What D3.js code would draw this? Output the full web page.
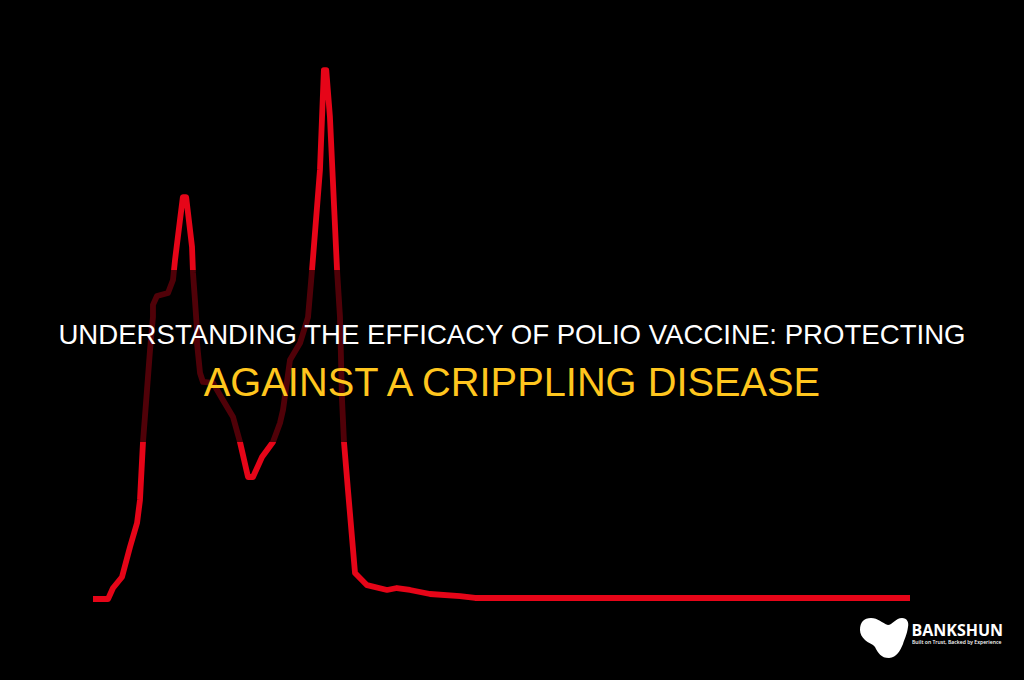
<!DOCTYPE html>
<html><head><meta charset="utf-8">
<style>html,body{margin:0;padding:0;background:#000;overflow:hidden}svg{display:block}</style>
<script src="https://cdn.jsdelivr.net/npm/d3@7/dist/d3.min.js"></script>
</head><body><svg id="c" width="1024" height="680"></svg>
<script>
const timeValues=[0,1.84,2.45,3.55,4.53,5.39,5.75,6.12,6.61,6.98,7.34,7.34,7.83,9.18,9.79,10.04,10.65,11.0,11.4,12.12,12.24,12.48,12.73,12.73,13.1,13.46,14.69,15.9,17.14,17.99,18.97,19.58,20.69,22.03,22.89,23.26,24.11,25.34,26.32,26.81,27.78,28.26,28.55,29.0,29.87,30.23,30.48,30.72,31.21,32.07,33.54,35.99,37.2,38.8,41.25,44.92,46.76,100];
const caseValues=[0,0,2.07,4.14,9.79,14.31,18.64,29.57,39.36,46.9,53.1,55.4,57.06,57.63,60.08,63.84,71.4,75.7,75.7,66.3,61.4,56.3,50.7,48.2,42.56,40.87,40.68,37.48,34.27,29.57,22.98,22.98,26.74,29.57,33.15,35.6,45,48.2,53.1,61.96,80.8,99.6,99.6,90.8,61.96,53.1,37.5,29.57,20.5,4.9,2.6,1.7,2.07,1.7,0.94,0.56,0.19,0.19];
const titleLines=["UNDERSTANDING THE EFFICACY OF POLIO VACCINE: PROTECTING","AGAINST A CRIPPLING DISEASE"];
const titleColors=["#ffffff","#ffc61e"];
const brand="BANKSHUN", tagline="Built on Trust, Backed by Experience";

const svg=d3.select("#c");
const x=d3.scaleLinear().domain([0,100]).range([93,910]);
const y=d3.scaleLinear().domain([0,100]).range([599,68]);
const pts=timeValues.map((t,i)=>[t,caseValues[i]]);
const line=d3.line().x(d=>x(d[0])).y(d=>y(d[1])).curve(d3.curveLinear);
svg.append("rect").attr("width",1024).attr("height",680).attr("fill","#000");
svg.append("path").datum(pts).attr("d",line).attr("fill","none").attr("stroke","#e60518").attr("stroke-width",5.8).attr("stroke-linejoin","round");
svg.append("rect").attr("x",0).attr("y",270).attr("width",1024).attr("height",172).attr("fill","#000").attr("fill-opacity",0.65);
const base=[344,396];
const fsize=[27.6,39.8];
svg.selectAll("text.t").data(titleLines).join("text").attr("class","t")
 .attr("x",512).attr("y",(d,i)=>base[i]).attr("text-anchor","middle")
 .attr("font-family","'Liberation Sans',Arial,sans-serif").attr("font-size",(d,i)=>fsize[i])
 .attr("fill",(d,i)=>titleColors[i]).text(d=>d);
const logo=svg.append("g");
logo.append("path").attr("fill","#fff").attr("d","M860 630C860 622 864 618 871 618C878 618 882 623 888 625C892 625 896 618 902 618C907 618 909 622 908 627C907 635 904 640 903 644C900 651 897 657 889 658C881 658 878 653 875 647C873 644 868 643 865 640C862 637 860 634 860 630Z");
logo.append("text").attr("x",911.5).attr("y",636).attr("font-family","'Open Sans',sans-serif").attr("font-weight",700).attr("font-size",16).attr("fill","#fff").text(brand);
logo.append("text").attr("x",912).attr("y",643.5).attr("font-family","'Open Sans',sans-serif").attr("font-weight",600).attr("font-size",5.1).attr("fill","#fff").text(tagline);
</script></body></html>
